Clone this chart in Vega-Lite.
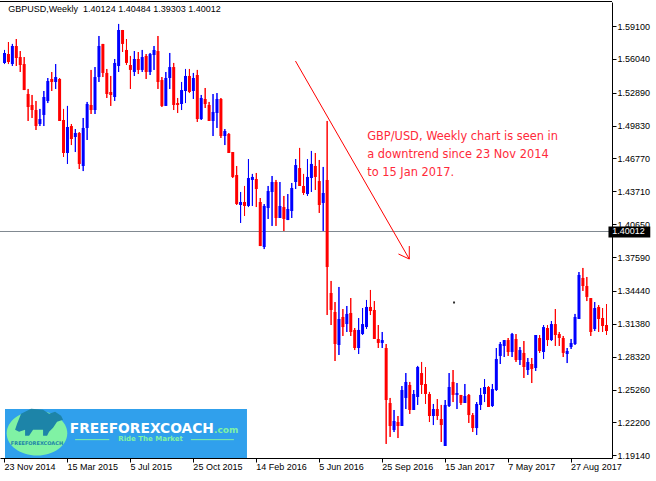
{
"$schema":"https://vega.github.io/schema/vega-lite/v6.json",
"width":612,"height":456,"autosize":"none",
"padding":{"left":0,"top":2,"right":44,"bottom":23},
"background":"white",
"config":{"view":{"stroke":null},"axis":{"grid":false}},
"resolve":{"axis":{"x":"independent","y":"independent"}},
"datasets":{
"candles":[
{"d":"2014-11-23","o":1.5566,"h":1.5687,"l":1.5556,"c":1.5659},
{"d":"2014-11-30","o":1.5649,"h":1.5761,"l":1.5556,"c":1.5575},
{"d":"2014-12-07","o":1.5556,"h":1.5743,"l":1.5538,"c":1.5724},
{"d":"2014-12-14","o":1.5724,"h":1.5789,"l":1.5538,"c":1.5612},
{"d":"2014-12-21","o":1.5621,"h":1.5677,"l":1.5482,"c":1.5547},
{"d":"2014-12-28","o":1.5556,"h":1.5621,"l":1.5314,"c":1.5314},
{"d":"2015-01-04","o":1.5277,"h":1.5324,"l":1.5026,"c":1.5156},
{"d":"2015-01-11","o":1.5175,"h":1.5268,"l":1.5054,"c":1.5128},
{"d":"2015-01-18","o":1.5128,"h":1.5212,"l":1.4942,"c":1.4979},
{"d":"2015-01-25","o":1.4998,"h":1.5138,"l":1.4979,"c":1.5044},
{"d":"2015-02-01","o":1.5082,"h":1.5305,"l":1.4979,"c":1.5249},
{"d":"2015-02-08","o":1.5212,"h":1.5426,"l":1.5193,"c":1.5398},
{"d":"2015-02-15","o":1.5417,"h":1.5482,"l":1.5305,"c":1.5389},
{"d":"2015-02-22","o":1.5389,"h":1.5556,"l":1.5324,"c":1.5435},
{"d":"2015-03-01","o":1.5417,"h":1.5426,"l":1.5026,"c":1.5026},
{"d":"2015-03-08","o":1.5035,"h":1.5138,"l":1.4691,"c":1.4728},
{"d":"2015-03-15","o":1.4728,"h":1.5166,"l":1.4626,"c":1.4970},
{"d":"2015-03-22","o":1.4979,"h":1.4998,"l":1.4802,"c":1.4858},
{"d":"2015-03-29","o":1.4877,"h":1.4951,"l":1.4737,"c":1.4914},
{"d":"2015-04-05","o":1.4914,"h":1.4923,"l":1.4579,"c":1.4626},
{"d":"2015-04-12","o":1.4607,"h":1.5054,"l":1.4560,"c":1.4961},
{"d":"2015-04-19","o":1.4961,"h":1.5203,"l":1.4849,"c":1.5184},
{"d":"2015-04-26","o":1.5175,"h":1.5501,"l":1.5091,"c":1.5128},
{"d":"2015-05-03","o":1.5128,"h":1.5528,"l":1.5091,"c":1.5435},
{"d":"2015-05-10","o":1.5435,"h":1.5817,"l":1.5389,"c":1.5724},
{"d":"2015-05-17","o":1.5743,"h":1.5743,"l":1.5435,"c":1.5473},
{"d":"2015-05-24","o":1.5473,"h":1.5510,"l":1.5240,"c":1.5277},
{"d":"2015-05-31","o":1.5296,"h":1.5445,"l":1.5166,"c":1.5268},
{"d":"2015-06-07","o":1.5249,"h":1.5603,"l":1.5212,"c":1.5566},
{"d":"2015-06-14","o":1.5538,"h":1.5929,"l":1.5482,"c":1.5873},
{"d":"2015-06-21","o":1.5873,"h":1.5873,"l":1.5668,"c":1.5743},
{"d":"2015-06-28","o":1.5687,"h":1.5789,"l":1.5547,"c":1.5566},
{"d":"2015-07-05","o":1.5547,"h":1.5631,"l":1.5324,"c":1.5501},
{"d":"2015-07-12","o":1.5482,"h":1.5677,"l":1.5445,"c":1.5603},
{"d":"2015-07-19","o":1.5603,"h":1.5668,"l":1.5463,"c":1.5501},
{"d":"2015-07-26","o":1.5501,"h":1.5687,"l":1.5482,"c":1.5621},
{"d":"2015-08-02","o":1.5631,"h":1.5649,"l":1.5417,"c":1.5482},
{"d":"2015-08-09","o":1.5482,"h":1.5659,"l":1.5454,"c":1.5649},
{"d":"2015-08-16","o":1.5640,"h":1.5724,"l":1.5501,"c":1.5687},
{"d":"2015-08-23","o":1.5677,"h":1.5817,"l":1.5324,"c":1.5389},
{"d":"2015-08-30","o":1.5407,"h":1.5435,"l":1.5156,"c":1.5166},
{"d":"2015-09-06","o":1.5166,"h":1.5482,"l":1.5166,"c":1.5426},
{"d":"2015-09-13","o":1.5426,"h":1.5659,"l":1.5324,"c":1.5528},
{"d":"2015-09-20","o":1.5528,"h":1.5566,"l":1.5128,"c":1.5175},
{"d":"2015-09-27","o":1.5193,"h":1.5240,"l":1.5100,"c":1.5175},
{"d":"2015-10-04","o":1.5184,"h":1.5389,"l":1.5128,"c":1.5314},
{"d":"2015-10-11","o":1.5305,"h":1.5510,"l":1.5193,"c":1.5445},
{"d":"2015-10-18","o":1.5445,"h":1.5510,"l":1.5286,"c":1.5296},
{"d":"2015-10-25","o":1.5305,"h":1.5473,"l":1.5231,"c":1.5426},
{"d":"2015-11-01","o":1.5454,"h":1.5501,"l":1.5017,"c":1.5044},
{"d":"2015-11-08","o":1.5044,"h":1.5268,"l":1.5035,"c":1.5240},
{"d":"2015-11-15","o":1.5231,"h":1.5333,"l":1.5147,"c":1.5184},
{"d":"2015-11-22","o":1.5175,"h":1.5203,"l":1.5026,"c":1.5026},
{"d":"2015-11-29","o":1.5026,"h":1.5277,"l":1.4886,"c":1.5110},
{"d":"2015-12-06","o":1.5100,"h":1.5286,"l":1.4961,"c":1.5231},
{"d":"2015-12-13","o":1.5231,"h":1.5240,"l":1.4868,"c":1.4886},
{"d":"2015-12-20","o":1.4886,"h":1.4951,"l":1.4802,"c":1.4933},
{"d":"2015-12-27","o":1.4905,"h":1.4914,"l":1.4728,"c":1.4728},
{"d":"2016-01-03","o":1.4737,"h":1.4737,"l":1.4495,"c":1.4505},
{"d":"2016-01-10","o":1.4523,"h":1.4607,"l":1.4244,"c":1.4253},
{"d":"2016-01-17","o":1.4244,"h":1.4365,"l":1.4077,"c":1.4272},
{"d":"2016-01-24","o":1.4272,"h":1.4421,"l":1.4142,"c":1.4235},
{"d":"2016-01-31","o":1.4235,"h":1.4672,"l":1.4225,"c":1.4495},
{"d":"2016-02-07","o":1.4477,"h":1.4533,"l":1.4235,"c":1.4505},
{"d":"2016-02-14","o":1.4486,"h":1.4542,"l":1.4225,"c":1.4393},
{"d":"2016-02-21","o":1.4272,"h":1.4309,"l":1.3862,"c":1.3862},
{"d":"2016-02-28","o":1.3853,"h":1.4253,"l":1.3834,"c":1.4235},
{"d":"2016-03-06","o":1.4216,"h":1.4421,"l":1.4114,"c":1.4374},
{"d":"2016-03-13","o":1.4365,"h":1.4514,"l":1.4049,"c":1.4458},
{"d":"2016-03-20","o":1.4458,"h":1.4477,"l":1.4049,"c":1.4123},
{"d":"2016-03-27","o":1.4123,"h":1.4458,"l":1.4123,"c":1.4235},
{"d":"2016-04-03","o":1.4225,"h":1.4328,"l":1.4002,"c":1.4114},
{"d":"2016-04-10","o":1.4104,"h":1.4346,"l":1.4104,"c":1.4207},
{"d":"2016-04-17","o":1.4188,"h":1.4449,"l":1.4123,"c":1.4402},
{"d":"2016-04-24","o":1.4458,"h":1.4672,"l":1.4393,"c":1.4616},
{"d":"2016-05-01","o":1.4588,"h":1.4775,"l":1.4421,"c":1.4421},
{"d":"2016-05-08","o":1.4421,"h":1.4533,"l":1.4337,"c":1.4356},
{"d":"2016-05-15","o":1.4346,"h":1.4672,"l":1.4328,"c":1.4505},
{"d":"2016-05-22","o":1.4495,"h":1.4747,"l":1.4365,"c":1.4626},
{"d":"2016-05-29","o":1.4607,"h":1.4728,"l":1.4384,"c":1.4505},
{"d":"2016-06-05","o":1.4467,"h":1.4663,"l":1.4170,"c":1.4244},
{"d":"2016-06-12","o":1.4263,"h":1.4598,"l":1.4002,"c":1.4356},
{"d":"2016-06-19","o":1.4477,"h":1.5026,"l":1.3220,"c":1.3667},
{"d":"2016-06-26","o":1.3425,"h":1.3537,"l":1.3127,"c":1.3267},
{"d":"2016-07-03","o":1.3248,"h":1.3341,"l":1.2792,"c":1.2950},
{"d":"2016-07-10","o":1.2941,"h":1.3481,"l":1.2848,"c":1.3183},
{"d":"2016-07-17","o":1.3202,"h":1.3276,"l":1.3025,"c":1.3108},
{"d":"2016-07-24","o":1.3136,"h":1.3304,"l":1.3062,"c":1.3230},
{"d":"2016-07-31","o":1.3239,"h":1.3378,"l":1.3025,"c":1.3062},
{"d":"2016-08-07","o":1.3081,"h":1.3099,"l":1.2894,"c":1.2913},
{"d":"2016-08-14","o":1.2913,"h":1.3192,"l":1.2857,"c":1.3081},
{"d":"2016-08-21","o":1.3043,"h":1.3285,"l":1.3034,"c":1.3136},
{"d":"2016-08-28","o":1.3108,"h":1.3360,"l":1.3090,"c":1.3295},
{"d":"2016-09-04","o":1.3295,"h":1.3453,"l":1.3220,"c":1.3257},
{"d":"2016-09-11","o":1.3267,"h":1.3350,"l":1.2997,"c":1.2997},
{"d":"2016-09-18","o":1.2997,"h":1.3127,"l":1.2913,"c":1.2960},
{"d":"2016-09-25","o":1.2960,"h":1.3062,"l":1.2913,"c":1.2987},
{"d":"2016-10-02","o":1.2913,"h":1.2950,"l":1.2020,"c":1.2429},
{"d":"2016-10-09","o":1.2401,"h":1.2448,"l":1.2085,"c":1.2187},
{"d":"2016-10-16","o":1.2150,"h":1.2336,"l":1.2131,"c":1.2234},
{"d":"2016-10-23","o":1.2224,"h":1.2280,"l":1.2075,"c":1.2187},
{"d":"2016-10-30","o":1.2187,"h":1.2559,"l":1.2187,"c":1.2522},
{"d":"2016-11-06","o":1.2448,"h":1.2680,"l":1.2345,"c":1.2597},
{"d":"2016-11-13","o":1.2569,"h":1.2597,"l":1.2299,"c":1.2336},
{"d":"2016-11-20","o":1.2336,"h":1.2522,"l":1.2336,"c":1.2485},
{"d":"2016-11-27","o":1.2457,"h":1.2746,"l":1.2383,"c":1.2736},
{"d":"2016-12-04","o":1.2680,"h":1.2783,"l":1.2485,"c":1.2569},
{"d":"2016-12-11","o":1.2578,"h":1.2736,"l":1.2392,"c":1.2485},
{"d":"2016-12-18","o":1.2485,"h":1.2504,"l":1.2224,"c":1.2280},
{"d":"2016-12-25","o":1.2280,"h":1.2392,"l":1.2196,"c":1.2345},
{"d":"2017-01-01","o":1.2345,"h":1.2438,"l":1.2243,"c":1.2280},
{"d":"2017-01-08","o":1.2252,"h":1.2383,"l":1.2038,"c":1.2196},
{"d":"2017-01-15","o":1.2001,"h":1.2429,"l":1.2001,"c":1.2383},
{"d":"2017-01-22","o":1.2373,"h":1.2680,"l":1.2364,"c":1.2550},
{"d":"2017-01-29","o":1.2597,"h":1.2708,"l":1.2410,"c":1.2476},
{"d":"2017-02-05","o":1.2476,"h":1.2587,"l":1.2345,"c":1.2494},
{"d":"2017-02-12","o":1.2476,"h":1.2476,"l":1.2383,"c":1.2401},
{"d":"2017-02-19","o":1.2401,"h":1.2578,"l":1.2401,"c":1.2466},
{"d":"2017-02-26","o":1.2476,"h":1.2485,"l":1.2215,"c":1.2289},
{"d":"2017-03-05","o":1.2289,"h":1.2308,"l":1.2131,"c":1.2168},
{"d":"2017-03-12","o":1.2168,"h":1.2410,"l":1.2103,"c":1.2392},
{"d":"2017-03-19","o":1.2383,"h":1.2541,"l":1.2336,"c":1.2476},
{"d":"2017-03-26","o":1.2485,"h":1.2624,"l":1.2410,"c":1.2550},
{"d":"2017-04-02","o":1.2550,"h":1.2559,"l":1.2364,"c":1.2364},
{"d":"2017-04-09","o":1.2373,"h":1.2578,"l":1.2364,"c":1.2531},
{"d":"2017-04-16","o":1.2522,"h":1.2913,"l":1.2513,"c":1.2811},
{"d":"2017-04-23","o":1.2839,"h":1.2969,"l":1.2764,"c":1.2950},
{"d":"2017-04-30","o":1.2932,"h":1.2987,"l":1.2829,"c":1.2987},
{"d":"2017-05-07","o":1.2987,"h":1.3006,"l":1.2839,"c":1.2876},
{"d":"2017-05-14","o":1.2876,"h":1.3053,"l":1.2829,"c":1.3043},
{"d":"2017-05-21","o":1.2997,"h":1.3043,"l":1.2783,"c":1.2801},
{"d":"2017-05-28","o":1.2801,"h":1.2922,"l":1.2755,"c":1.2894},
{"d":"2017-06-04","o":1.2867,"h":1.2978,"l":1.2634,"c":1.2736},
{"d":"2017-06-11","o":1.2708,"h":1.2820,"l":1.2662,"c":1.2783},
{"d":"2017-06-18","o":1.2764,"h":1.2820,"l":1.2587,"c":1.2718},
{"d":"2017-06-25","o":1.2727,"h":1.3034,"l":1.2699,"c":1.3034},
{"d":"2017-07-02","o":1.3006,"h":1.3034,"l":1.2867,"c":1.2885},
{"d":"2017-07-09","o":1.2876,"h":1.3127,"l":1.2811,"c":1.3108},
{"d":"2017-07-16","o":1.3099,"h":1.3127,"l":1.2932,"c":1.2987},
{"d":"2017-07-23","o":1.2987,"h":1.3164,"l":1.2978,"c":1.3136},
{"d":"2017-07-30","o":1.3136,"h":1.3276,"l":1.2932,"c":1.3034},
{"d":"2017-08-06","o":1.3043,"h":1.3062,"l":1.2932,"c":1.3006},
{"d":"2017-08-13","o":1.3006,"h":1.3025,"l":1.2829,"c":1.2867},
{"d":"2017-08-20","o":1.2857,"h":1.2913,"l":1.2773,"c":1.2885},
{"d":"2017-08-27","o":1.2922,"h":1.2997,"l":1.2904,"c":1.2960},
{"d":"2017-09-03","o":1.2950,"h":1.3230,"l":1.2941,"c":1.3202},
{"d":"2017-09-10","o":1.3183,"h":1.3620,"l":1.3183,"c":1.3593},
{"d":"2017-09-17","o":1.3565,"h":1.3658,"l":1.3444,"c":1.3490},
{"d":"2017-09-24","o":1.3490,"h":1.3574,"l":1.3350,"c":1.3388},
{"d":"2017-10-01","o":1.3378,"h":1.3378,"l":1.3025,"c":1.3062},
{"d":"2017-10-08","o":1.3090,"h":1.3341,"l":1.3071,"c":1.3285},
{"d":"2017-10-15","o":1.3295,"h":1.3313,"l":1.3062,"c":1.3183},
{"d":"2017-10-22","o":1.3192,"h":1.3285,"l":1.3062,"c":1.3118},
{"d":"2017-10-29","o":1.3127,"h":1.3322,"l":1.3034,"c":1.3071}
],
"titleText":[{"t":"2014-11-29T15:36:00Z","p":1.6064,"txt":"GBPUSD,Weekly\u00a0 1.40124 1.40484 1.39303 1.40012"}],
"note":[
{"t":"2016-08-29T06:00:00Z","p":1.4880,"txt":"GBP/USD, Weekly chart is seen in"},
{"t":"2016-08-29T06:00:00Z","p":1.4709,"txt":"a downtrend since 23 Nov 2014"},
{"t":"2016-08-29T06:00:00Z","p":1.4539,"txt":"to 15 Jan 2017."}],
"arrow":[
{"t1":"2016-04-23T15:36:00Z","p1":1.5584,"t2":"2016-11-12T03:00:00Z","p2":1.3741},
{"t1":"2016-11-12T03:00:00Z","p1":1.3862,"t2":"2016-11-12T03:00:00Z","p2":1.3741},
{"t1":"2016-10-23T21:00:00Z","p1":1.3788,"t2":"2016-11-12T03:00:00Z","p2":1.3741}],
"bid":[{"p":1.40012,"t":"2017-11-08T03:36:00Z","txt":"1.40012"}],
"bidBox":[{"t1":"2017-11-01T12:00:00Z","t2":"2018-01-14T21:00:00Z","p1":1.3942,"p2":1.4044}],
"frameTop":[{"p":1.61334}],
"dot":[{"t":"2017-01-30T18:00:00Z","p":1.33365}],
"logoBox":[{"t1":"2014-11-23T21:00:00Z","t2":"2016-01-28T09:00:00Z","p1":1.18892,"p2":1.2345}],
"logoEllipse":[{"t":"2015-01-19T18:00:00Z","p":1.2119}],
"logoBull":[{"t":"2015-01-23T12:00:00Z","p":1.2190}],
"logoSmall":[{"t":"2015-01-19T18:00:00Z","p":1.2026,"txt":"FREEFOREXCOACH"}],
"logoName":[{"t":"2015-03-19T03:00:00Z","p":1.2162,"txt":"FREEFOREXCOACH"}],
"logoDotCom":[{"t":"2015-11-30T21:00:00Z","p":1.2150,"txt":".com"}],
"logoSlogan":[{"t":"2015-08-09T21:00:00Z","p":1.2063,"txt":"Ride The Market"}],
"logoLines":[
{"t1":"2015-03-28T15:36:00Z","t2":"2015-05-28T09:00:00Z","p":1.2060},
{"t1":"2015-10-20T15:00:00Z","t2":"2016-01-05T02:24:00Z","p":1.2060}]
},
"layer":[
{"data":{"name":"candles"},"mark":{"type":"rule","strokeWidth":1,"clip":true},
 "encoding":{
  "x":{"field":"d","type":"temporal",
   "scale":{"type":"utc","nice":false,"domain":[{"year":2014,"month":11,"date":23,"hours":21,"utc":true},{"year":2017,"month":10,"date":29,"hours":21,"utc":true}]},
   "axis":{"orient":"bottom","title":null,"grid":false,
    "values":[{"year":2014,"month":11,"date":23,"utc":true},{"year":2015,"month":3,"date":15,"utc":true},{"year":2015,"month":7,"date":5,"utc":true},{"year":2015,"month":10,"date":25,"utc":true},{"year":2016,"month":2,"date":14,"utc":true},{"year":2016,"month":6,"date":5,"utc":true},{"year":2016,"month":9,"date":25,"utc":true},{"year":2017,"month":1,"date":15,"utc":true},{"year":2017,"month":5,"date":7,"utc":true},{"year":2017,"month":8,"date":27,"utc":true}],
    "labelExpr":"utcFormat(datum.value, '%-d %b %Y')",
    "labelAlign":"left","labelBaseline":"top","labelOffset":0,"labelPadding":0,"tickOffset":-0.5,
    "tickSize":4,"tickColor":"black","domainColor":"black","labelColor":"black",
    "labelFont":"Liberation Sans","labelFontSize":9,"labelFlush":false,"labelOverlap":false,"labelBound":false}},
  "y":{"field":"l","type":"quantitative",
   "scale":{"domain":[1.18892,1.61334],"nice":false,"zero":false},
   "axis":{"orient":"right","title":null,"grid":false,
    "values":[1.591,1.5604,1.5289,1.4983,1.4677,1.4371,1.4065,1.3759,1.3444,1.3138,1.2832,1.2526,1.222,1.1914],
    "format":".5f","tickSize":4,"tickColor":"black","domainColor":"black","labelColor":"black",
    "labelFont":"Liberation Sans","labelFontSize":9,"labelPadding":1,"labelOverlap":false,"labelBound":false}},
  "y2":{"field":"h"},
  "color":{"condition":{"test":"datum.c > datum.o","value":"#0000ff"},"value":"#ff0000"}}},
{"data":{"name":"logoBox"},"mark":{"type":"rect","color":"#30a0ec"},
 "encoding":{"x":{"field":"t1","type":"temporal","axis":null},"x2":{"field":"t2"},"y":{"field":"p1","type":"quantitative","axis":null},"y2":{"field":"p2"}}},
{"data":{"name":"logoEllipse"},"mark":{"type":"point","filled":true,"opacity":1,"color":"#80f2a4","size":3672,"shape":"M-1,0C-1,-0.4065,-0.5523,-0.736,0,-0.736C0.5523,-0.736,1,-0.4065,1,0C1,0.4065,0.5523,0.736,0,0.736C-0.5523,0.736,-1,0.4065,-1,0Z"},
 "encoding":{"x":{"field":"t","type":"temporal","axis":null},"y":{"field":"p","type":"quantitative","axis":null}}},
{"data":{"name":"logoBull"},"mark":{"type":"point","filled":true,"opacity":1,"color":"#1d84a8","size":3672,"shape":"M-0.726,-0.066L-0.594,-0.396L-0.264,-0.561L0.132,-0.528L0.33,-0.396L0.528,-0.462L0.726,-0.33L0.792,-0.198L0.594,-0.132L0.462,0.066L0.33,0.198L0.264,0.33L0.132,0.33L0.132,0.132L-0.198,0.132L-0.33,0.33L-0.462,0.33L-0.462,0.132L-0.66,0.198L-0.792,0.132Z"},
 "encoding":{"x":{"field":"t","type":"temporal","axis":null},"y":{"field":"p","type":"quantitative","axis":null}}},
{"data":{"name":"logoSmall"},"mark":{"type":"text","font":"DejaVu Sans","fontSize":5,"fontWeight":"bold","color":"#1d84a8","align":"center","baseline":"middle"},
 "encoding":{"x":{"field":"t","type":"temporal","axis":null},"y":{"field":"p","type":"quantitative","axis":null},"text":{"field":"txt"}}},
{"data":{"name":"logoName"},"mark":{"type":"text","font":"DejaVu Sans","fontSize":13.8,"fontWeight":"bold","color":"white","align":"left","baseline":"middle"},
 "encoding":{"x":{"field":"t","type":"temporal","axis":null},"y":{"field":"p","type":"quantitative","axis":null},"text":{"field":"txt"}}},
{"data":{"name":"logoDotCom"},"mark":{"type":"text","font":"DejaVu Sans","fontSize":9,"fontWeight":"bold","color":"#80f2a4","align":"left","baseline":"middle"},
 "encoding":{"x":{"field":"t","type":"temporal","axis":null},"y":{"field":"p","type":"quantitative","axis":null},"text":{"field":"txt"}}},
{"data":{"name":"logoSlogan"},"mark":{"type":"text","font":"DejaVu Sans","fontSize":7,"fontWeight":"bold","color":"#80f2a4","align":"center","baseline":"middle"},
 "encoding":{"x":{"field":"t","type":"temporal","axis":null},"y":{"field":"p","type":"quantitative","axis":null},"text":{"field":"txt"}}},
{"data":{"name":"logoLines"},"mark":{"type":"rule","color":"#80f2a4","strokeWidth":1},
 "encoding":{"x":{"field":"t1","type":"temporal","axis":null},"x2":{"field":"t2"},"y":{"field":"p","type":"quantitative","axis":null}}},
{"data":{"name":"bid"},"mark":{"type":"rule","color":"#808890","strokeWidth":1,"yOffset":0.4},
 "encoding":{"y":{"field":"p","type":"quantitative","axis":null}}},
{"data":{"name":"frameTop"},"mark":{"type":"rule","color":"black","strokeWidth":1,"yOffset":-0.5},
 "encoding":{"y":{"field":"p","type":"quantitative","axis":null}}},
{"data":{"name":"candles"},"mark":{"type":"rule","strokeWidth":1,"clip":true},
 "encoding":{
  "x":{"field":"d","type":"temporal","axis":null},
  "y":{"field":"l","type":"quantitative","axis":null},
  "y2":{"field":"h"},
  "color":{"condition":{"test":"datum.c > datum.o","value":"#0000ff"},"value":"#ff0000"}}},
{"data":{"name":"candles"},"mark":{"type":"bar","width":3,"clip":true},
 "encoding":{
  "x":{"field":"d","type":"temporal","axis":null},
  "y":{"field":"o","type":"quantitative","axis":null},
  "y2":{"field":"c"},
  "color":{"condition":{"test":"datum.c > datum.o","value":"#0000ff"},"value":"#ff0000"}}},
{"data":{"name":"arrow"},"mark":{"type":"rule","color":"#ff0000","strokeWidth":1},
 "encoding":{"x":{"field":"t1","type":"temporal","axis":null},"x2":{"field":"t2"},"y":{"field":"p1","type":"quantitative","axis":null},"y2":{"field":"p2"}}},
{"data":{"name":"note"},"mark":{"type":"text","font":"DejaVu Sans","fontSize":11.4,"color":"#ff2a3a","align":"left","baseline":"middle"},
 "encoding":{"x":{"field":"t","type":"temporal","axis":null},"y":{"field":"p","type":"quantitative","axis":null},"text":{"field":"txt"}}},
{"data":{"name":"titleText"},"mark":{"type":"text","font":"Liberation Sans","fontSize":9,"color":"black","align":"left","baseline":"middle"},
 "encoding":{"x":{"field":"t","type":"temporal","axis":null},"y":{"field":"p","type":"quantitative","axis":null},"text":{"field":"txt"}}},
{"data":{"name":"dot"},"mark":{"type":"point","shape":"square","filled":true,"opacity":1,"size":4,"color":"#303030"},
 "encoding":{"x":{"field":"t","type":"temporal","axis":null},"y":{"field":"p","type":"quantitative","axis":null}}},
{"data":{"name":"bidBox"},"mark":{"type":"rect","color":"black"},
 "encoding":{"x":{"field":"t1","type":"temporal","axis":null},"x2":{"field":"t2"},"y":{"field":"p1","type":"quantitative","axis":null},"y2":{"field":"p2"}}},
{"data":{"name":"bid"},"mark":{"type":"text","font":"Liberation Sans","fontSize":9,"color":"white","align":"left","baseline":"middle"},
 "encoding":{"x":{"field":"t","type":"temporal","axis":null},"y":{"field":"p","type":"quantitative","axis":null},"text":{"field":"txt"}}}
]
}
